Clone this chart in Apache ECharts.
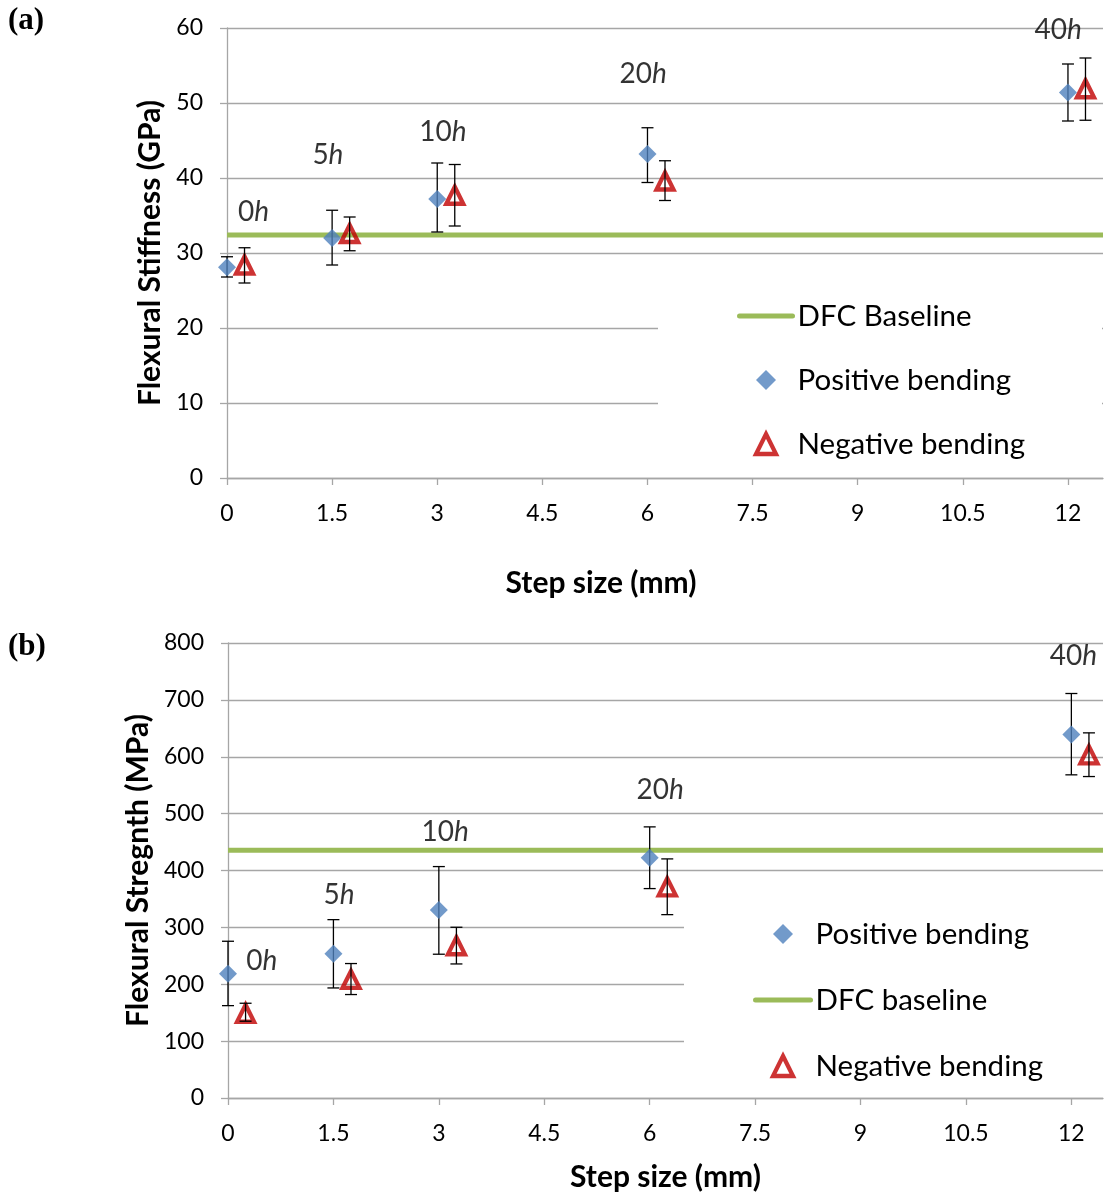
<!DOCTYPE html>
<html><head><meta charset="utf-8">
<script src="https://cdn.jsdelivr.net/npm/echarts@6/dist/echarts.min.js"></script>
<style>html,body{margin:0;padding:0;background:#fff}#c{width:1105px;height:1196px}</style>
</head><body><div id="c"></div>
<script>
// ---- shared ----
const hours = [0, 5, 10, 20, 40];
const stepSize = [0, 1.5, 3, 6, 12];
const negOffset = 0.25;
const xTicks = [0, 1.5, 3, 4.5, 6, 7.5, 9, 10.5, 12];

// ---- (a) Flexural stiffness (GPa) ----
const stiffPos = [28.1, 32.0, 37.2, 43.2, 51.4];
const stiffPosLow = [26.8, 28.4, 32.8, 39.4, 47.6];
const stiffPosHigh = [29.5, 35.7, 42.0, 46.7, 55.2];
const stiffNeg = [28.4, 32.6, 37.7, 39.6, 51.9];
const stiffNegLow = [26.0, 30.3, 33.6, 37.0, 47.7];
const stiffNegHigh = [30.7, 34.8, 41.8, 42.3, 56.0];
const stiffBaseline = 32.4;
const stiffLabelX = [0.38, 1.44, 3.08, 5.94, 11.86];
const stiffLabelY = [35.5, 43.1, 46.1, 53.9, 59.7];

// ---- (b) Flexural strength (MPa) ----
const strPos = [218.6, 253.8, 330.7, 422.2, 639.1];
const strPosLow = [162.4, 193.5, 252.8, 368.2, 568.2];
const strPosHigh = [275.6, 313.6, 406.9, 476.7, 711.2];
const strNeg = [149, 208.4, 267.7, 371.2, 603.3];
const strNegLow = [135, 181.9, 235.7, 322.4, 565.2];
const strNegHigh = [166.6, 236.4, 300.2, 420.4, 642];
const strBaseline = 435.5;
const strLabelX = [0.48, 1.58, 3.09, 6.15, 12.03];
const strLabelY = [241, 357, 468, 542, 777];

const xMaxA = 12.5, xMaxB = 12.45;

const FONT = 'Lato';
const GRID_GRAY = '#a6a6a6';
const BLUE = '#4f81bd', RED = '#c00000', GREEN = '#9bbb59';
const DIAMOND = 'path://M1,0L2,1L1,2L0,1Z';
const TRIANGLE = 'path://M1,0L2,2L0,2Z';

const negX = stepSize.map(v => v + negOffset);

function errSeries(idx, xs, lows, highs, z) {
  return {
    type: 'custom', xAxisIndex: idx, yAxisIndex: idx, z: z, silent: true,
    data: xs.map((x, i) => [x, lows[i], highs[i]]),
    encode: { x: 0, y: [1, 2] },
    renderItem: function (params, api) {
      const x = api.value(0);
      const lo = api.coord([x, api.value(1)]);
      const hi = api.coord([x, api.value(2)]);
      const w = 6;
      const st = { stroke: '#000', lineWidth: 1.3 };
      return { type: 'group', children: [
        { type: 'line', shape: { x1: lo[0], y1: lo[1], x2: hi[0], y2: hi[1] }, style: st },
        { type: 'line', shape: { x1: lo[0] - w, y1: lo[1], x2: lo[0] + w, y2: lo[1] }, style: st },
        { type: 'line', shape: { x1: hi[0] - w, y1: hi[1], x2: hi[0] + w, y2: hi[1] }, style: st }
      ]};
    }
  };
}

function posSeries(idx, ys) {
  return { type: 'scatter', name: 'Positive bending', xAxisIndex: idx, yAxisIndex: idx, z: 5,
    symbol: 'diamond', symbolSize: 18, itemStyle: { color: BLUE },
    data: stepSize.map((x, i) => [x, ys[i]]) };
}
function negSeries(idx, ys) {
  return { type: 'scatter', name: 'Negative bending', xAxisIndex: idx, yAxisIndex: idx, z: 4,
    symbol: 'triangle', symbolSize: 17,
    itemStyle: { color: 'rgba(255,255,255,0)', borderColor: RED, borderWidth: 4.3 },
    data: negX.map((x, i) => [x, ys[i]]) };
}
function baseSeries(idx, name, v, xmax) {
  return { type: 'line', name: name, xAxisIndex: idx, yAxisIndex: idx, z: 2,
    symbol: 'none', lineStyle: { color: GREEN, width: 5 }, itemStyle: { color: GREEN },
    data: [[0, v], [xmax, v]] };
}
function labelSeries(idx, xs, ys) {
  return { type: 'scatter', xAxisIndex: idx, yAxisIndex: idx, z: 6, silent: true,
    symbolSize: 1, itemStyle: { color: 'rgba(0,0,0,0)' },
    label: { show: true, position: 'inside', color: '#000',
      formatter: p => '{n|' + p.value[2] + '}{i|h}',
      rich: { n: { fontFamily: FONT, fontSize: 28, color: '#000' },
              i: { fontFamily: FONT, fontSize: 28, fontStyle: 'italic', color: '#000' } } },
    data: xs.map((x, i) => [x, ys[i], hours[i]]) };
}

function xAxisCfg(idx, xmax, nameGap, namePad) {
  return { gridIndex: idx, type: 'value', min: 0, max: xmax,
    name: 'Step size (mm)', nameLocation: 'middle', nameGap: nameGap,
    nameTextStyle: { fontFamily: FONT, fontSize: 30, fontWeight: 'bold', color: '#000', padding: namePad },
    axisLine: { show: true, lineStyle: { color: GRID_GRAY, width: 1.3 } },
    axisTick: { show: true, customValues: xTicks, length: 7, lineStyle: { color: GRID_GRAY, width: 1.3 } },
    axisLabel: { customValues: xTicks, fontFamily: FONT, fontSize: 23, color: '#000', margin: 24 },
    splitLine: { show: false } };
}
function yAxisCfg(idx, max, interval, name, nameGap) {
  return { gridIndex: idx, type: 'value', min: 0, max: max, interval: interval,
    name: name, nameLocation: 'middle', nameGap: nameGap,
    nameTextStyle: { fontFamily: FONT, fontSize: 30, fontWeight: 'bold', color: '#000' },
    axisLine: { show: true, lineStyle: { color: GRID_GRAY, width: 1.3 } },
    axisTick: { show: true, length: 7, lineStyle: { color: GRID_GRAY, width: 1.3 } },
    axisLabel: { fontFamily: FONT, fontSize: 23, color: '#000', margin: 24 },
    splitLine: { show: true, lineStyle: { color: GRID_GRAY, width: 1.3 } } };
}

const legendText = { fontFamily: FONT, fontSize: 29.5, color: '#000', lineHeight: 34 };
const lineItem = name => ({ name: name, itemStyle: { color: 'rgba(0,0,0,0)', borderWidth: 0, opacity: 0 },
  lineStyle: { width: 5, cap: 'round', color: GREEN } });
const negItem = { name: 'Negative bending', icon: TRIANGLE, symbolKeepAspect: true,
  itemStyle: { borderWidth: 4.3, borderColor: RED, color: 'rgba(255,255,255,0)' } };
const posItem = { name: 'Positive bending', icon: DIAMOND, symbolKeepAspect: true,
  itemStyle: { color: BLUE, borderWidth: 0 } };

const chart = echarts.init(document.getElementById('c'), null, { renderer: 'canvas' });
chart.setOption({
  animation: false,
  backgroundColor: '#fff',
  grid: [
    { left: 227, top: 28, width: 876, height: 450 },
    { left: 228, top: 643, width: 875, height: 455 }
  ],
  xAxis: [ xAxisCfg(0, xMaxA, 90, [0, 128, 0, 0]), xAxisCfg(1, xMaxB, 64, 0) ],
  yAxis: [ yAxisCfg(0, 60, 10, 'Flexural Stiffness (GPa)', 62),
           yAxisCfg(1, 800, 100, 'Flexural Stregnth (MPa)', 75) ],
  legend: [
    { orient: 'vertical', left: 658, top: 290, padding: [9, 77, 9, 79], backgroundColor: '#fff',
      itemWidth: 53, itemHeight: 20, itemGap: 30, textStyle: legendText, selectedMode: false,
      symbolKeepAspect: true,
      data: [lineItem('DFC Baseline'), posItem, negItem] },
    { orient: 'vertical', left: 684, top: 905, padding: [12, 60, 10, 69], backgroundColor: '#fff',
      itemWidth: 55, itemHeight: 20, itemGap: 32, textStyle: legendText, selectedMode: false,
      symbolKeepAspect: true,
      data: [posItem, lineItem('DFC baseline'), negItem] }
  ],
  graphic: [
    { type: 'text', left: 8, top: 5, style: { text: '(a)', font: 'bold 31px "Liberation Serif"', fill: '#000' } },
    { type: 'text', left: 8, top: 631, style: { text: '(b)', font: 'bold 31px "Liberation Serif"', fill: '#000' } }
  ],
  series: [
    baseSeries(0, 'DFC Baseline', stiffBaseline, xMaxA),
    errSeries(0, stepSize, stiffPosLow, stiffPosHigh, 3),
    errSeries(0, negX, stiffNegLow, stiffNegHigh, 6),
    posSeries(0, stiffPos),
    negSeries(0, stiffNeg),
    labelSeries(0, stiffLabelX, stiffLabelY),

    baseSeries(1, 'DFC baseline', strBaseline, xMaxB),
    errSeries(1, stepSize, strPosLow, strPosHigh, 3),
    errSeries(1, negX, strNegLow, strNegHigh, 6),
    posSeries(1, strPos),
    negSeries(1, strNeg),
    labelSeries(1, strLabelX, strLabelY)
  ]
});
</script></body></html>
